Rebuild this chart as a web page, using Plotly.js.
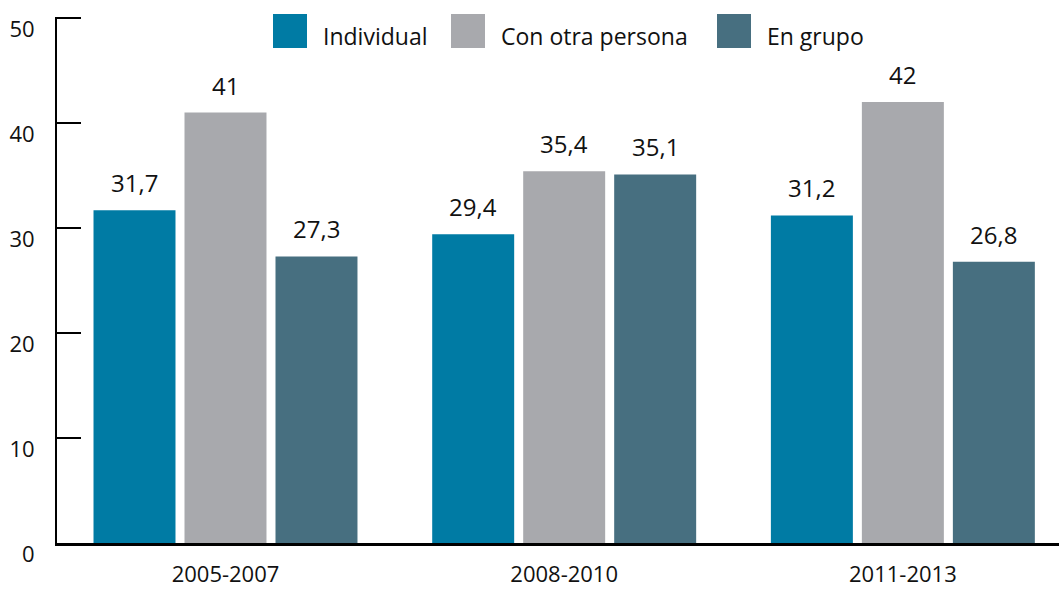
<!DOCTYPE html>
<html>
<head>
<meta charset="utf-8">
<script src="https://cdn.plot.ly/plotly-3.0.1.min.js"></script>
<style>html,body{margin:0;padding:0;background:#fff;}#chart{width:1059px;height:590px;}</style>
</head>
<body>
<div id="chart"></div>
<script>
const categories = ['2005-2007', '2008-2010', '2011-2013'];
const seriesNames = ['Individual', 'Con otra persona', 'En grupo'];
const individual = [31.7, 29.4, 31.2];
const conOtraPersona = [41, 35.4, 42];
const enGrupo = [27.3, 35.1, 26.8];
const yTicks = [0, 10, 20, 30, 40, 50];

const colors = ['#007ba4', '#a8a9ad', '#476f80'];
const seriesValues = [individual, conOtraPersona, enGrupo];
const FONT = 'Open Sans, Noto Sans, sans-serif';

const W = 1059, H = 590;
const M = {l: 57, r: 0, t: 17, b: 47};
const plotW = W - M.l - M.r;
const plotH = H - M.t - M.b;
const px = x => (x - M.l) / plotW;          // page px -> paper x
const py = y => 1 - (y - M.t) / plotH;      // page px -> paper y

const traces = seriesValues.map((vals, i) => ({
  type: 'bar',
  name: seriesNames[i],
  x: categories,
  y: vals,
  marker: {color: colors[i], line: {width: 0}},
  showlegend: false,
  hoverinfo: 'x+y+name'
}));

const slotPx = 91;
const annotations = [];
seriesValues.forEach((vals, i) => {
  vals.forEach((v, j) => {
    annotations.push({
      x: categories[j], y: v, xref: 'x', yref: 'y',
      xshift: (i - 1) * slotPx, yshift: 9,
      yanchor: 'bottom', xanchor: 'center',
      text: String(v).replace('.', ','),
      showarrow: false,
      font: {family: FONT, size: 24, color: '#111'}
    });
  });
});

// custom legend (large square swatches)
const legendX = [273, 451, 717];
const shapes = [];
seriesNames.forEach((n, i) => {
  shapes.push({
    type: 'rect', xref: 'paper', yref: 'paper',
    x0: px(legendX[i]), x1: px(legendX[i] + 34),
    y0: py(48), y1: py(14),
    fillcolor: colors[i], line: {width: 0}
  });
  annotations.push({
    xref: 'paper', yref: 'paper',
    x: px(legendX[i] + 48), y: py(36),
    xanchor: 'left', yanchor: 'middle',
    text: n, showarrow: false,
    font: {family: FONT, size: 23, color: '#111'}
  });
});

const layout = {
  width: W, height: H,
  margin: M,
  paper_bgcolor: '#fff', plot_bgcolor: '#fff',
  barmode: 'group',
  bargap: 0.194,
  bargroupgap: 0.099,
  showlegend: false,
  xaxis: {
    type: 'category',
    range: [-0.4975, 2.461],
    showgrid: false, zeroline: false,
    showline: true, linecolor: '#000', linewidth: 2.5,
    ticks: '',
    ticklabelstandoff: 10,
    tickfont: {family: FONT, size: 22, color: '#111'}
  },
  yaxis: {
    range: [0, 50.1],
    tickvals: yTicks,
    ticktext: yTicks.map(String),
    showgrid: false, zeroline: false,
    showline: true, linecolor: '#000', linewidth: 2,
    ticks: 'inside', ticklen: 24, tickwidth: 2, tickcolor: '#000',
    ticklabelstandoff: 16,
    ticklabelshift: 11,
    tickfont: {family: FONT, size: 22, color: '#111'}
  },
  shapes: shapes,
  annotations: annotations
};

Plotly.newPlot('chart', traces, layout, {displayModeBar: false, staticPlot: true});
</script>
</body>
</html>
